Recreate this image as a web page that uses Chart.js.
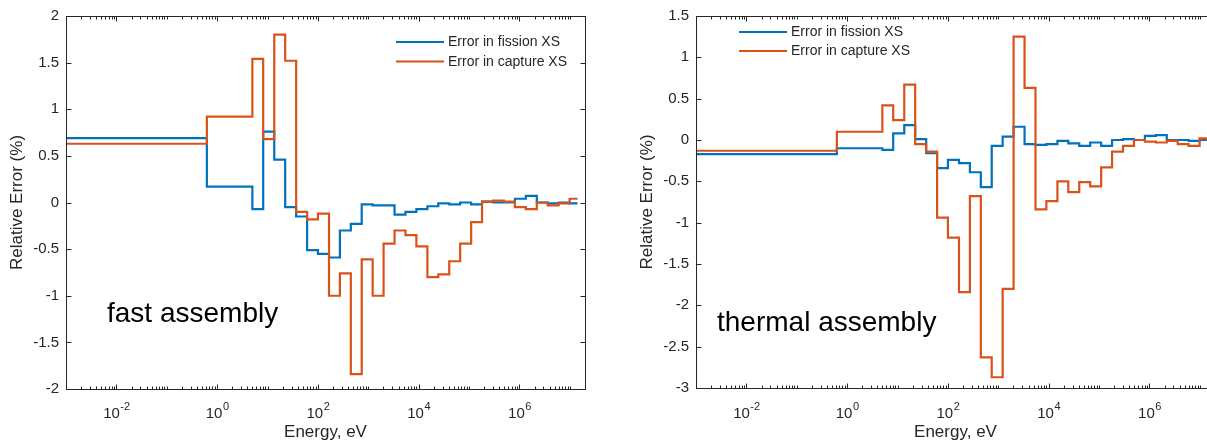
<!DOCTYPE html>
<html>
<head>
<meta charset="utf-8">
<script src="https://cdn.jsdelivr.net/npm/chart.js@4"></script>
<style>
  html, body { margin: 0; padding: 0; background: #fff; overflow: hidden; }
  #wrap { position: relative; width: 1207px; height: 445px; overflow: hidden; }
  .panel { position: absolute; top: 0; }
</style>
</head>
<body>
<div id="wrap">
  <canvas id="fastChart" class="panel" width="600" height="445" style="left:0"></canvas>
  <canvas id="thermalChart" class="panel" width="600" height="445" style="left:630px"></canvas>
</div>
<script>
// group boundaries, eV (32 groups)
const energyEdges = [0.001, 0.625, 5, 8.2, 13.6, 22.4, 37, 61, 100, 166, 273, 450, 740,
  1220, 2010, 3320, 5470, 9000, 14900, 24500, 40400, 66600, 110000, 181000, 299000,
  493000, 812000, 1340000, 2210000, 3640000, 6000000, 9900000, 14200000];

// relative error per group, %
const fastFission = [0.69, 0.17, -0.07, 0.76, 0.46, -0.05, -0.15, -0.51, -0.55, -0.59,
  -0.30, -0.23, -0.02, -0.03, -0.03, -0.13, -0.10, -0.07, -0.04, -0.01, -0.02, 0.00,
  -0.02, 0.01, 0.00, 0.00, 0.04, 0.07, 0.00, -0.01, 0.00, -0.01];
const fastCapture = [0.63, 0.92, 1.54, 0.68, 1.80, 1.52, -0.10, -0.18, -0.12, -1.00,
  -0.76, -1.84, -0.61, -1.00, -0.44, -0.30, -0.35, -0.47, -0.80, -0.77, -0.63, -0.44,
  -0.21, 0.01, 0.02, 0.01, -0.05, -0.07, 0.00, -0.03, -0.01, 0.04];
const thermalFission = [-0.17, -0.10, -0.12, 0.08, 0.18, 0.01, -0.16, -0.34, -0.24, -0.28,
  -0.39, -0.57, -0.07, 0.04, 0.16, -0.05, -0.06, -0.05, -0.01, -0.04, -0.07, -0.03,
  -0.07, 0.00, 0.01, 0.00, 0.05, 0.06, 0.00, 0.00, -0.01, 0.00];
const thermalCapture = [-0.13, 0.10, 0.42, 0.24, 0.67, -0.05, -0.14, -0.94, -1.18, -1.84,
  -0.68, -2.63, -2.87, -1.80, 1.25, 0.63, -0.84, -0.74, -0.50, -0.63, -0.51, -0.56,
  -0.33, -0.14, -0.07, 0.00, -0.02, -0.03, -0.01, -0.05, -0.07, 0.02];

const tickExponents = [-2, 0, 2, 4, 6];
const seriesNames = ['Error in fission XS', 'Error in capture XS'];

const BLUE = 'rgb(0,114,189)';
const ORANGE = 'rgb(217,83,25)';
const INK = '#262626';
const FONT = '"Liberation Sans", Arial, Helvetica, sans-serif';

// one point per lower edge plus the top edge, drawn as a histogram
function steps(values) {
  const pts = values.map((v, i) => ({ x: energyEdges[i], y: v }));
  pts.push({ x: energyEdges[values.length], y: values[values.length - 1] });
  return pts;
}

// box, inward ticks, exponent labels, titles, legend and panel note
const axesFrame = {
  id: 'axesFrame',
  afterDraw(chart, args, o) {
    const ctx = chart.ctx;
    const a = chart.chartArea;
    const xs = chart.scales.x, ys = chart.scales.y;
    const L = Math.round(a.left) + 0.5, R = Math.round(a.right) + 0.5;
    const T = Math.round(a.top) + 0.5, B = Math.round(a.bottom) + 0.5;
    ctx.save();
    ctx.strokeStyle = INK;
    ctx.lineWidth = 1;
    ctx.strokeRect(L, T, R - L, B - T);

    ctx.beginPath();
    for (let d = -3; d <= 7; d++) {
      for (let m = 1; m <= 9; m++) {
        const v = m * Math.pow(10, d);
        if (v < xs.min || v > xs.max) continue;
        const px = Math.round(xs.getPixelForValue(v)) + 0.5;
        const len = (m === 1 && d % 2 === 0) ? 5 : 3;
        ctx.moveTo(px, B); ctx.lineTo(px, B - len);
        ctx.moveTo(px, T); ctx.lineTo(px, T + len);
      }
    }
    ys.ticks.forEach(t => {
      const py = Math.round(ys.getPixelForValue(t.value)) + 0.5;
      ctx.moveTo(L, py); ctx.lineTo(L + 5, py);
      ctx.moveTo(R, py); ctx.lineTo(R - 5, py);
    });
    ctx.stroke();

    // 10^n labels
    ctx.fillStyle = INK;
    ctx.textBaseline = 'alphabetic';
    ctx.textAlign = 'left';
    tickExponents.forEach(e => {
      const px = xs.getPixelForValue(Math.pow(10, e));
      ctx.font = '15px ' + FONT;
      const w1 = ctx.measureText('10').width;
      ctx.font = '11px ' + FONT;
      const w2 = ctx.measureText(String(e)).width;
      const x0 = px - (w1 + w2) / 2;
      ctx.font = '15px ' + FONT;
      ctx.fillText('10', x0, 418);
      ctx.font = '11px ' + FONT;
      ctx.fillText(String(e), x0 + w1 + 0.5, 410);
    });

    // axis titles
    ctx.font = '17px ' + FONT;
    ctx.textAlign = 'center';
    ctx.fillText('Energy, eV', (a.left + a.right) / 2, 437);
    ctx.save();
    ctx.translate(17, (a.top + a.bottom) / 2);
    ctx.rotate(-Math.PI / 2);
    ctx.textBaseline = 'middle';
    ctx.fillText('Relative Error (%)', 0, 0);
    ctx.restore();

    // legend
    ctx.font = '14px ' + FONT;
    ctx.textAlign = 'left';
    ctx.textBaseline = 'middle';
    [BLUE, ORANGE].forEach((c, i) => {
      const y = o.legendY + i * o.legendGap;
      ctx.strokeStyle = c;
      ctx.lineWidth = 2;
      ctx.beginPath();
      ctx.moveTo(o.legendX, y); ctx.lineTo(o.legendX + 48, y);
      ctx.stroke();
      ctx.fillStyle = INK;
      ctx.fillText(seriesNames[i], o.legendX + 52, y + 0.5);
    });

    // panel note
    ctx.fillStyle = '#000';
    ctx.font = '28px ' + FONT;
    ctx.textBaseline = 'alphabetic';
    ctx.fillText(o.note, o.noteX, o.noteY);
    ctx.restore();
  }
};

function makeChart(id, fission, capture, yMin, yMax, top, frame) {
  return new Chart(document.getElementById(id), {
    type: 'line',
    data: {
      datasets: [
        { label: seriesNames[0], data: steps(fission), borderColor: BLUE,
          borderWidth: 2.2, stepped: 'before', pointRadius: 0, order: 1 },
        { label: seriesNames[1], data: steps(capture), borderColor: ORANGE,
          borderWidth: 2.2, stepped: 'before', pointRadius: 0, order: 0 }
      ]
    },
    options: {
      responsive: false,
      animation: false,
      devicePixelRatio: 1,
      layout: { padding: { left: 0, right: 15, top: top, bottom: 0 } },
      plugins: { legend: { display: false }, tooltip: { enabled: false }, axesFrame: frame },
      scales: {
        x: {
          type: 'logarithmic', min: 0.001, max: 2e7,
          grid: { display: false, drawTicks: false }, border: { display: false },
          ticks: { display: false },
          afterFit: s => { s.height = 445 - 389 + (top - 13); }
        },
        y: {
          min: yMin, max: yMax,
          grid: { display: false, drawTicks: false }, border: { display: false },
          ticks: { stepSize: 0.5, padding: 7, color: INK, font: { family: FONT, size: 15 },
            callback: v => String(v) },
          afterFit: s => { s.width = 66; }
        }
      }
    },
    plugins: [axesFrame]
  });
}

makeChart('fastChart', fastFission, fastCapture, -2, 2, 13,
  { legendX: 396, legendY: 42, legendGap: 19.5, note: 'fast assembly', noteX: 107, noteY: 322 });
makeChart('thermalChart', thermalFission, thermalCapture, -3, 1.5, 14,
  { legendX: 109, legendY: 32, legendGap: 19, note: 'thermal assembly', noteX: 87, noteY: 331 });
</script>
</body>
</html>
